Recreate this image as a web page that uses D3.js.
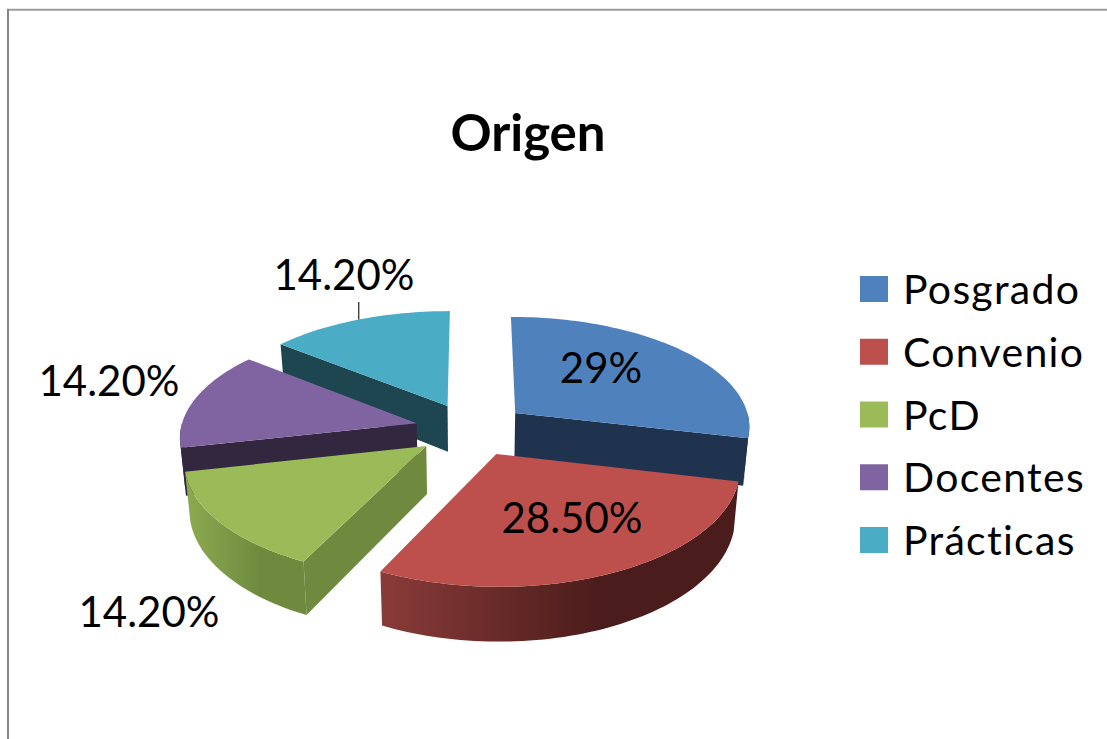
<!DOCTYPE html>
<html>
<head>
<meta charset="utf-8">
<title>Origen</title>
<script src="https://cdn.jsdelivr.net/npm/d3@7"></script>
<style>
  html, body { margin: 0; padding: 0; background: #fff; overflow: hidden; }
  text { font-family: Lato, "Open Sans", sans-serif; fill: #000; }
</style>
</head>
<body>
<div id="chart"></div>
<script>
// chart data
const categories = ['Posgrado', 'Convenio', 'PcD', 'Docentes', 'Prácticas'];
const values = [28.6, 28.5, 14.2, 14.2, 14.2];
const valueLabels = ['29%', '28.50%', '14.20%', '14.20%', '14.20%'];

// slice colours
const topColors = ['#4f81bd', '#bd4f4c', '#9bbb59', '#8064a2', '#4bacc6'];
const faceColors = ['#1f334f', '#4a1d1c', '#6f8a3f', '#33263f', '#1e4650'];
const rimLight = ['#1f334f', '#8a3b39', '#8cab50', '#33263f', '#1e4650'];
const rimDark = ['#1f334f', '#4a1c1b', '#6f8a3f', '#33263f', '#1e4650'];

const width = 1107;
const height = 739;

// 3d pie settings, fitted by eye against the picture
const cx = 471.5;
const cy = 429.3;
const scaleU = 236;
const scaleV = 111;
const perspU = 0.11;
const perspV = 0.117;
const explode = 0.24;
const depth = 47;
const shrink = 0.018;

const rad = deg => deg * Math.PI / 180;

const svg = d3.select('#chart')
    .append('svg')
    .attr('width', width)
    .attr('height', height);

const defs = svg.append('defs');

// chart frame, only top and left sides show in the picture
svg.append('line')
    .attr('x1', 7).attr('x2', width)
    .attr('y1', 9.7).attr('y2', 9.7)
    .attr('stroke', '#9c9c9c')
    .attr('stroke-width', 2);
svg.append('line')
    .attr('x1', 8).attr('x2', 8)
    .attr('y1', 9).attr('y2', height)
    .attr('stroke', '#868686')
    .attr('stroke-width', 2);

// title
svg.append('text')
    .text('Origen')
    .attr('x', 528)
    .attr('y', 151)
    .attr('text-anchor', 'middle')
    .style('font-size', '51px')
    .style('font-weight', 'bold');

// pie layout, clockwise from the top
const pie = d3.pie().sort(null).value(d => d.value);
const slices = pie(categories.map((name, i) => ({ name, value: values[i], i })));

// plane coordinates to screen, z = 1 means the bottom of the wall
const project = (u, v, z) => {
  const wu = 1 + perspU * v;
  const wv = 1 + perspV * v;
  const f = 1 - shrink * z;
  return [
    cx + scaleU * u / wu * f,
    cy - scaleV * v / wv + depth * z / wv
  ];
};

const midAngle = d => (d.startAngle + d.endAngle) / 2;
const offset = d => [explode * Math.sin(midAngle(d)), explode * Math.cos(midAngle(d))];

const apex = (d, z) => {
  const [ou, ov] = offset(d);
  return project(ou, ov, z);
};
const rimPoint = (d, a, z) => {
  const [ou, ov] = offset(d);
  return project(ou + Math.sin(a), ov + Math.cos(a), z);
};

const angleSteps = (a0, a1) => {
  const n = Math.max(2, Math.ceil((a1 - a0) / rad(1.5)));
  return d3.range(n + 1).map(k => a0 + (a1 - a0) * k / n);
};

const line = d3.line();
const closed = pts => line(pts) + 'Z';

// back slices first
const order = slices.slice().sort((a, b) => offset(b)[1] - offset(a)[1]);

const group = svg.selectAll('g.slice')
    .data(order)
    .enter()
    .append('g')
    .attr('class', 'slice');

// cut faces, only the ones turned to the viewer
group.selectAll('path.face')
    .data(d => {
      const faces = [];
      if (Math.sin(d.startAngle) < -1e-6) faces.push({ d, a: d.startAngle });
      if (Math.sin(d.endAngle) > 1e-6) faces.push({ d, a: d.endAngle });
      return faces;
    })
    .enter()
    .append('path')
    .attr('class', 'face')
    .attr('fill', e => faceColors[e.d.data.i])
    .attr('d', e => closed([
      apex(e.d, 0),
      rimPoint(e.d, e.a, 0),
      rimPoint(e.d, e.a, 1),
      apex(e.d, 1)
    ]));

// outer wall, only the part facing the viewer
group.each(function(d) {
  const a0 = Math.max(d.startAngle, rad(90));
  const a1 = Math.min(d.endAngle, rad(270));
  if (a1 <= a0) return;
  const i = d.data.i;
  const id = `rim${i}`;
  const grad = defs.append('linearGradient').attr('id', id);
  grad.append('stop').attr('offset', '0').attr('stop-color', rimLight[i]);
  grad.append('stop').attr('offset', '0.62').attr('stop-color', rimDark[i]);
  const steps = angleSteps(a0, a1);
  d3.select(this).append('path')
      .attr('fill', `url(#${id})`)
      .attr('d', closed([
        ...steps.map(a => rimPoint(d, a, 0)),
        ...steps.slice().reverse().map(a => rimPoint(d, a, 1))
      ]));
});

// top surface
group.append('path')
    .attr('fill', d => topColors[d.data.i])
    .attr('d', d => closed([
      apex(d, 0),
      ...angleSteps(d.startAngle, d.endAngle).map(a => rimPoint(d, a, 0))
    ]));

// value labels, placed by hand like the original
const labelX = [601, 572, 149, 109, 344];
const labelY = [383, 533, 627, 396, 290];

svg.selectAll('text.value')
    .data(slices)
    .enter()
    .append('text')
    .attr('class', 'value')
    .text(d => valueLabels[d.data.i])
    .attr('x', d => labelX[d.data.i])
    .attr('y', d => labelY[d.data.i])
    .attr('text-anchor', 'middle')
    .style('font-size', '42px');

// leader line for the last slice
const leaderStart = rimPoint(slices[4], midAngle(slices[4]), 0);
svg.append('line')
    .attr('x1', leaderStart[0]).attr('x2', leaderStart[0])
    .attr('y1', leaderStart[1]).attr('y2', 302)
    .attr('stroke', '#222')
    .attr('stroke-width', 1.2);

// legend
const legendY = d3.scalePoint()
    .domain(categories)
    .range([289, 540]);

const legend = svg.selectAll('g.legend')
    .data(categories)
    .enter()
    .append('g')
    .attr('class', 'legend')
    .attr('transform', d => `translate(860,${legendY(d)})`);

legend.append('rect')
    .attr('y', -13)
    .attr('width', 28)
    .attr('height', 26)
    .attr('fill', (d, i) => topColors[i]);

legend.append('text')
    .text(d => d)
    .attr('x', 43)
    .attr('y', 15)
    .style('font-size', '41px')
    .style('letter-spacing', '1.3px');
</script>
</body>
</html>
